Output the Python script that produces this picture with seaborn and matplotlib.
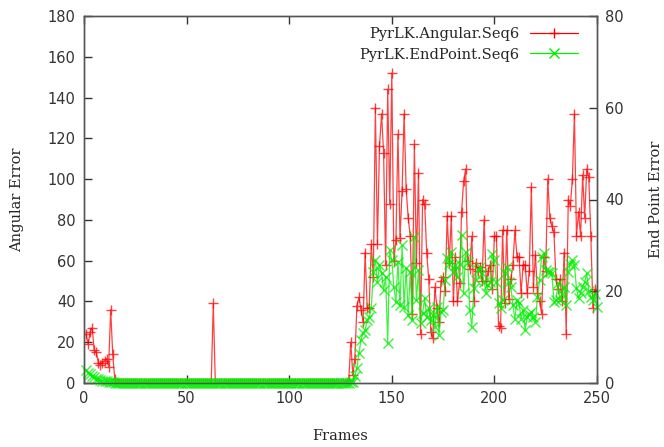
import pandas as pd
import seaborn as sns
import matplotlib.pyplot as plt

frames = list(range(1, 251))

# angular error (left axis), frames 1..250
angular = (
    [24, 19, 25, 27, 16, 15, 10, 9, 10, 11, 12, 8, 36, 14, 2]  # 1-15
    + [0] * 47  # 16-62
    + [39]  # 63
    + [0] * 65  # 64-128
    + [1]  # 129
    + [20, 4, 12, 38, 42, 36, 30, 64, 37, 37,
       68, 52, 135, 68, 116, 132, 113, 58, 144, 88,
       152, 60, 70, 122, 71, 94, 132, 95, 81, 72,
       34, 117, 59, 103, 24, 90, 88, 64, 51, 25,
       22, 47, 37, 30, 50, 52, 45, 82, 59, 82,
       40, 62, 40, 49, 84, 99, 105, 60, 56, 72,
       40, 59, 55, 57, 50, 80, 50, 55, 58, 46,
       72, 72, 28, 27, 75, 39, 75, 41, 51, 58,
       75, 62, 62, 44, 58, 58, 44, 55, 96, 47,
       63, 44, 40, 34, 62, 55, 100, 81, 77, 74,
       51, 46, 51, 40, 64, 24, 90, 87, 100, 132,
       72, 84, 72, 102, 81, 105, 101, 72, 37, 46,
       45]  # 130-250
)

# end point error (right axis), frames 1..250
endpoint = (
    [2.8, 2.2, 1.9, 1.5, 1.2, 0.9, 0.8, 0.6, 0.5, 0.4, 0.4, 0.3, 0.3, 0.2]  # 1-14
    + [0] * 115  # 15-129
    + [0.3, 0.3, 1.5, 3.2, 6.5, 9.4, 10.9, 11.5, 13.7, 14.3,
       16.3, 24.3, 26.8, 22, 25.7, 24, 20.3, 23, 8.7, 29,
       26.8, 21, 17.7, 26.4, 17, 30, 16.6, 25, 14.8, 24.2,
       13.7, 31.9, 18, 24.6, 13, 15.2, 18.5, 14.3, 16.3, 13.7,
       14.8, 12.3, 16.6, 10.5, 15.5, 16, 22.4, 27.2, 26, 28.6,
       24.2, 25.7, 23, 26, 32.2, 19.6, 28.6, 26.3, 15.9, 12.3,
       20.6, 22.4, 24.6, 25.3, 24, 22, 19.6, 21.3, 22, 28.2,
       26.8, 22, 17.4, 16.3, 18, 23.9, 25.3, 22, 21, 17,
       14, 18, 17.4, 14, 16, 11.5, 14.4, 15, 15.5, 14.4,
       13.4, 18.8, 22.4, 27.5, 28.3, 24.6, 24.3, 24.3, 24, 17.7,
       18, 21.7, 18, 19.5, 21, 17, 24.2, 26, 26.8, 25.7,
       20.6, 18.5, 19.6, 21, 22, 23.9, 20, 18.8, 18, 19.5,
       16.6]  # 130-250
)

df = pd.DataFrame({"frame": frames, "angular": angular, "endpoint": endpoint})

sns.set_style("ticks")
plt.rcParams["font.family"] = ["DejaVu Sans"]

fig = plt.figure(figsize=(6.64, 4.47), dpi=100)
ax = fig.add_axes([84 / 664, 1 - 383 / 447, (597 - 84) / 664, (383 - 16) / 447])
ax2 = ax.twinx()

sns.lineplot(data=df, x="frame", y="angular", ax=ax, color="#ff0000",
             linewidth=0.9, alpha=0.75, marker="+", markersize=7,
             markeredgewidth=1, markeredgecolor="#ff0000",
             label="PyrLK.Angular.Seq6", legend=False)
sns.lineplot(data=df, x="frame", y="endpoint", ax=ax2, color="#00ee00",
             linewidth=0.9, alpha=0.75, marker="x", markersize=6.5,
             markeredgewidth=1, markeredgecolor="#00ee00",
             label="PyrLK.EndPoint.Seq6", legend=False, clip_on=False)

ax.set_xlim(0, 250)
ax.set_ylim(0, 180)
ax2.set_ylim(0, 80)
ax.set_xticks([0, 50, 100, 150, 200, 250])
ax.set_yticks(range(0, 181, 20))
ax2.set_yticks(range(0, 81, 20))

serif = {"family": "DejaVu Serif", "size": 10.5}
ax.set_xlabel("Frames", fontdict=serif, labelpad=16)
ax.set_ylabel("Angular Error", fontdict=serif, labelpad=17)
ax2.set_ylabel("End Point Error", fontdict=serif, labelpad=18)

for a in (ax, ax2):
    for s in a.spines.values():
        s.set_color("#555555")
        s.set_linewidth(1)
ax.tick_params(axis="both", direction="in", length=6, width=1, colors="#333333",
               labelsize=10.5, labelcolor="#333333", top=True, right=False, pad=6)
ax2.tick_params(axis="y", direction="in", length=6, width=1, colors="#333333",
                labelsize=10.5, labelcolor="#333333", pad=6)

h1, l1 = ax.get_legend_handles_labels()
h2, l2 = ax2.get_legend_handles_labels()
leg = ax2.legend(h1 + h2, l1 + l2, loc="upper right", frameon=False,
                 bbox_to_anchor=(1 - 19 / 513, 1 - 11 / 367),
                 markerfirst=False, handlelength=3.3, numpoints=1,
                 prop={"family": "DejaVu Serif", "size": 10.5},
                 borderaxespad=0, borderpad=0, labelspacing=0.45,
                 handletextpad=0.7)
for lh in leg.legend_handles:
    lh.set_alpha(1)

fig.savefig("out.png", dpi=100)
plt.close()
